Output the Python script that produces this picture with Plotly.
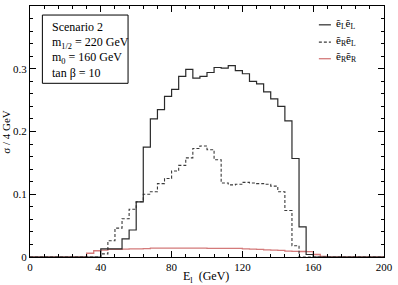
import plotly.graph_objects as go

# Bin left edges (4 GeV bins) from 0 to 196
bin_edges = [4 * i for i in range(51)]

# e~L e~L (solid)
sigma_LL = [0, 0, 0, 0, 0, 0, 0, 0, 0, 0,
            0.013, 0.013, 0.013, 0.029, 0.043, 0.088, 0.175, 0.220, 0.235, 0.256,
            0.267, 0.288, 0.299, 0.285, 0.288, 0.294, 0.302, 0.301, 0.305, 0.297,
            0.292, 0.280, 0.276, 0.263, 0.252, 0.240, 0.217, 0.157, 0.048, 0.004,
            0, 0, 0, 0, 0, 0, 0, 0, 0, 0]

# e~R e~L (dashed)
sigma_RL = [0, 0, 0, 0, 0, 0, 0, 0, 0, 0,
            0.005, 0.026, 0.046, 0.061, 0.076, 0.088, 0.100, 0.104, 0.117, 0.125,
            0.137, 0.146, 0.158, 0.173, 0.177, 0.171, 0.155, 0.118, 0.115, 0.116,
            0.119, 0.118, 0.117, 0.116, 0.113, 0.104, 0.074, 0.018, 0, 0,
            0, 0, 0, 0, 0, 0, 0, 0, 0, 0]

# e~R e~R (red)
sigma_RR = [0, 0, 0, 0, 0, 0, 0, 0, 0.006, 0.010,
            0.011, 0.012, 0.012, 0.0125, 0.013, 0.013, 0.0135, 0.014, 0.014, 0.014,
            0.014, 0.014, 0.014, 0.014, 0.014, 0.0138, 0.0138, 0.0138, 0.0138, 0.0138,
            0.013, 0.0125, 0.012, 0.0115, 0.011, 0.0105, 0.0095, 0.009, 0.0088, 0.0085,
            0.004, 0.001, 0, 0, 0, 0, 0, 0, 0, 0]

x_ticks = [0, 40, 80, 120, 160, 200]
y_ticks = [0, 0.1, 0.2, 0.3, 0.4]
y_tick_labels = ["0", "0.1", "0.2", "0.3", "0.4"]

legend_labels = ["ẽ<sub>L</sub>ẽ<sub>L</sub>", "ẽ<sub>R</sub>ẽ<sub>L</sub>", "ẽ<sub>R</sub>ẽ<sub>R</sub>"]
box_lines = ["Scenario 2", "m<sub>1/2</sub> = 220 GeV", "m<sub>0</sub> = 160 GeV", "tan β = 10"]

FONT = "Liberation Serif"


def step(vals):
    return vals + [vals[-1]]


styles = [
    dict(color="#2a2a2a", width=1.2, dash="solid"),
    dict(color="#3a3a3a", width=1.1, dash="3px,2px"),
    dict(color="#d47a7a", width=1.3, dash="solid"),
]

fig = go.Figure()
for vals, st in zip([sigma_RR, sigma_RL, sigma_LL], [styles[2], styles[1], styles[0]]):
    fig.add_trace(go.Scatter(x=bin_edges, y=step(vals), mode="lines",
                             line=dict(shape="hv", **st), showlegend=False,
                             hoverinfo="skip"))

axis_common = dict(showline=True, linecolor="black", linewidth=1, mirror="allticks",
                   ticks="inside", ticklen=6, tickcolor="black", tickwidth=1,
                   showgrid=False, zeroline=False,
                   tickfont=dict(family=FONT, size=11, color="black"))

fig.update_xaxes(range=[0, 200], tickvals=x_ticks,
                 minor=dict(ticks="inside", dtick=8, ticklen=3, tickcolor="black"),
                 **axis_common)
fig.update_yaxes(range=[0, 0.4], tickvals=y_ticks, ticktext=y_tick_labels,
                 minor=dict(ticks="inside", dtick=0.02, ticklen=3, tickcolor="black"),
                 **axis_common)

# Info box
fig.add_shape(type="rect", xref="paper", yref="paper", x0=0.035, x1=0.277,
              y0=0.692, y1=0.964, line=dict(color="black", width=1), fillcolor="white")
box_y = [0.917, 0.852, 0.794, 0.735]
for txt, yy in zip(box_lines, box_y):
    fig.add_annotation(xref="paper", yref="paper", x=0.056, y=yy, text=txt,
                       showarrow=False, xanchor="left", yanchor="middle",
                       font=dict(family=FONT, size=12, color="black"))

# Manual legend
leg_y = [0.925, 0.856, 0.79]
for st, lab, yy in zip(styles, legend_labels, leg_y):
    fig.add_shape(type="line", xref="paper", yref="paper", x0=0.816, x1=0.850,
                  y0=yy, y1=yy, line=st)
    fig.add_annotation(xref="paper", yref="paper", x=0.86, y=yy + 0.005, text=lab,
                       showarrow=False, xanchor="left", yanchor="middle",
                       font=dict(family=FONT, size=11, color="black"))

# Axis titles
fig.add_annotation(xref="paper", yref="paper", x=0.496, y=-0.079,
                   text="E<sub>l</sub>  (GeV)", showarrow=False,
                   xanchor="center", yanchor="middle",
                   font=dict(family=FONT, size=12, color="black"))
fig.add_annotation(xref="paper", yref="paper", x=-0.07, y=0.5,
                   text="σ / 4 GeV", textangle=-90, showarrow=False,
                   xanchor="center", yanchor="middle",
                   font=dict(family=FONT, size=11, color="black"))

fig.update_layout(width=398, height=285,
                  margin=dict(l=30, r=9, t=5, b=28),
                  paper_bgcolor="white", plot_bgcolor="white")

fig.write_html("out.html", config={"displayModeBar": False},
               post_script="document.body.style.margin='0';document.body.style.overflow='hidden';")
